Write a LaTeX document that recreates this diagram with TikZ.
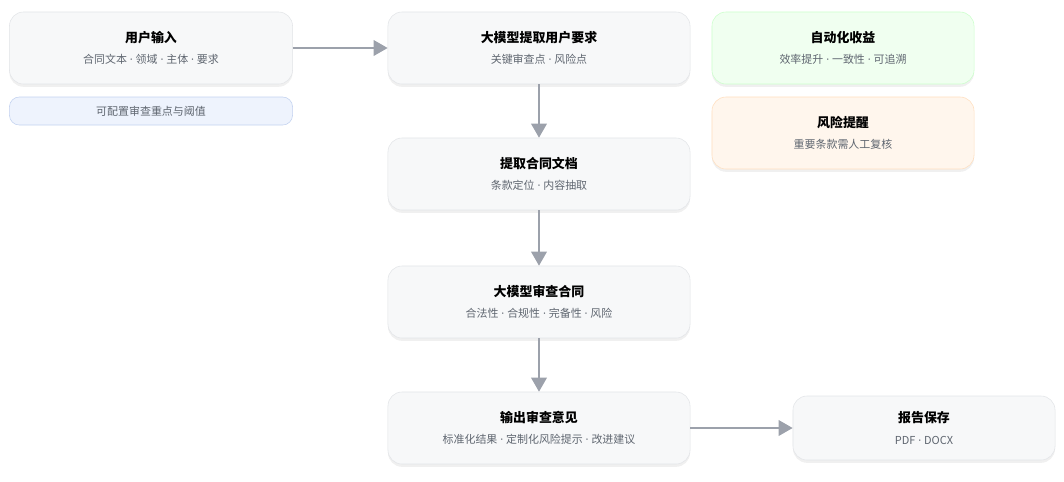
\documentclass[tikz,border=0pt]{standalone}
\usepackage{fontspec}
\setmainfont{Noto Sans CJK SC}
\newfontfamily\latinfont{Noto Sans}
\usetikzlibrary{arrows.meta,shadows}
\definecolor{boxline}{HTML}{E3E5E8}
\definecolor{boxfill}{HTML}{F7F8F9}
\definecolor{subgray}{HTML}{5F6670}
\definecolor{arrowgray}{HTML}{9CA1AB}
\definecolor{pillfill}{HTML}{EEF3FD}
\definecolor{pillline}{HTML}{C3D2F0}
\tikzset{
  box/.style={draw=boxline, fill=boxfill, rounded corners=10pt, align=center,
    drop shadow={opacity=0.12, shadow xshift=0pt, shadow yshift=-2pt},
    minimum height=1.8cm, inner sep=0pt, font=\fontsize{9.2}{16}\selectfont\bfseries},
  flow/.style={draw=arrowgray, line width=1.6pt, -{Triangle[length=10pt,width=11pt]}}
}
\newcommand{\sub}[1]{\\[-1pt]{\fontsize{7.8}{10}\selectfont\mdseries\color{subgray}#1}}
\newcommand{\dt}{{\latinfont\ ·\ }}
\begin{document}
\begin{tikzpicture}[x=0.025cm,y=-0.025cm]
  \useasboundingbox (0,0) rectangle (1064,481);
  \node[box, minimum width=7.075cm] (input) at (151,48) {用户输入\sub{合同文本\dt 领域\dt 主体\dt 要求}};
  \node[draw=pillline, fill=pillfill, rounded corners=7pt, minimum width=7.075cm, minimum height=0.7cm,
    font=\fontsize{7.8}{10}\selectfont, text=subgray] (cfg) at (151,111) {可配置审查重点与阈值};
  \node[box, minimum width=7.55cm] (req) at (539,48) {大模型提取用户要求\sub{关键审查点\dt 风险点}};
  \node[box, minimum width=7.55cm] (doc) at (539,174) {提取合同文档\sub{条款定位\dt 内容抽取}};
  \node[box, minimum width=7.55cm] (review) at (539,302) {大模型审查合同\sub{合法性\dt 合规性\dt 完备性\dt 风险}};
  \node[box, minimum width=7.55cm] (out) at (539,428) {输出审查意见\sub{标准化结果\dt 定制化风险提示\dt 改进建议}};
  \node[box, minimum width=6.55cm, minimum height=1.6cm] (save) at (924,428) {报告保存\sub{PDF\dt DOCX}};
  \node[box, draw=green!20, fill=green!6, minimum width=6.55cm] (gain) at (843,48) {自动化收益\sub{效率提升\dt 一致性\dt 可追溯}};
  \node[box, draw=orange!25, fill=orange!7, minimum width=6.55cm] (risk) at (843,133) {风险提醒\sub{重要条款需人工复核}};
  \draw[flow] (input) -- (req);
  \draw[flow] (req) -- (doc);
  \draw[flow] (doc) -- (review);
  \draw[flow] (review) -- (out);
  \draw[flow] (out) -- (save);
\end{tikzpicture}
\end{document}
